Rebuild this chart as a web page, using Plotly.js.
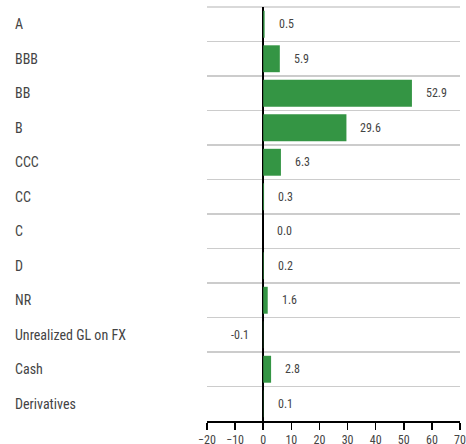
<!DOCTYPE html>
<html>
<head>
<meta charset="utf-8">
<script src="https://cdn.plot.ly/plotly-3.0.1.min.js"></script>
<style>html,body{margin:0;padding:0;background:#fff;}#chart{width:466px;height:444px;}</style>
</head>
<body>
<div id="chart"></div>
<script>
const categories = ["A","BBB","BB","B","CCC","CC","C","D","NR","Unrealized GL on FX","Cash","Derivatives"];
const values = [0.5, 5.9, 52.9, 29.6, 6.3, 0.3, 0.0, 0.2, 1.6, -0.1, 2.8, 0.1];
const valueLabels = ["0.5","5.9","52.9","29.6","6.3","0.3","0.0","0.2","1.6","-0.1","2.8","0.1"];
const xTicks = [-20,-10,0,10,20,30,40,50,60,70];

const FONT = '"Liberation Sans Narrow", "Roboto Condensed", "Liberation Sans", Arial, sans-serif';

const annotations = [];
categories.forEach((c, i) => {
  annotations.push({
    xref: 'paper', yref: 'y', x: 0, y: c, xshift: -194,
    xanchor: 'left', yanchor: 'middle', showarrow: false,
    text: c, font: {family: FONT, size: 14, color: '#444'}
  });
  const v = values[i];
  annotations.push({
    xref: 'x', yref: 'y', x: v, y: c,
    xanchor: v < 0 ? 'right' : 'left', yanchor: 'middle',
    xshift: v < 0 ? -12 : 12, showarrow: false,
    text: valueLabels[i], font: {family: FONT, size: 12, color: '#444'}
  });
});

const trace = {
  type: 'bar', orientation: 'h',
  x: values, y: categories,
  marker: {color: '#349544'},
  hoverinfo: 'none'
};

const layout = {
  width: 466, height: 444,
  margin: {l: 207, r: 6, t: 7, b: 23, pad: 0},
  paper_bgcolor: '#fff', plot_bgcolor: 'rgba(0,0,0,0)',
  showlegend: false,
  bargap: 0.22,
  font: {family: FONT, color: '#444'},
  xaxis: {
    range: [-20, 70], tickmode: 'array', tickvals: xTicks,
    showgrid: false, zeroline: true, zerolinecolor: '#000', zerolinewidth: 1.5,
    showline: true, linecolor: '#000', linewidth: 1.5,
    ticks: 'outside', ticklen: 7, tickwidth: 1.5, tickcolor: '#000',
    tickfont: {family: FONT, size: 12, color: '#444'}, fixedrange: true
  },
  yaxis: {
    type: 'category', autorange: 'reversed',
    tickson: 'boundaries', showgrid: true, gridcolor: '#cccccc', gridwidth: 1.5,
    showticklabels: false, ticks: '', zeroline: false, showline: false, fixedrange: true
  },
  shapes: [{
    type: 'line', xref: 'paper', yref: 'paper', x0: 0, x1: 1, y0: 1, y1: 1,
    line: {color: '#cccccc', width: 1.5}, layer: 'below'
  }],
  annotations: annotations
};

Plotly.newPlot('chart', [trace], layout, {staticPlot: true, displayModeBar: false});
</script>
</body>
</html>
